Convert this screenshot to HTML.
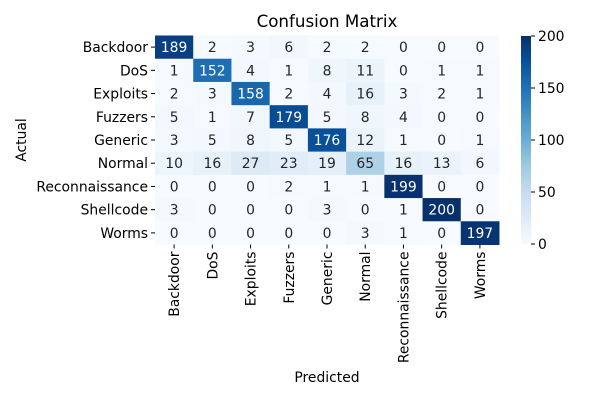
<!DOCTYPE html>
<html><head><meta charset="utf-8"><style>
body{margin:0;background:#fff;font-family:"Liberation Sans","DejaVu Sans",sans-serif;}
svg text{font-family:"DejaVu Sans","Liberation Sans",sans-serif;}
</style></head><body>
<svg id="c" width="600" height="400" xmlns="http://www.w3.org/2000/svg">
<defs><linearGradient id="cb" x1="0" y1="1" x2="0" y2="0">
<stop offset="0" stop-color="#f7fbff"/><stop offset="0.125" stop-color="#deebf7"/><stop offset="0.25" stop-color="#c6dbef"/><stop offset="0.375" stop-color="#9ecae1"/><stop offset="0.5" stop-color="#6baed6"/><stop offset="0.625" stop-color="#4292c6"/><stop offset="0.75" stop-color="#2171b5"/><stop offset="0.875" stop-color="#08519c"/><stop offset="1" stop-color="#08306b"/></linearGradient></defs>
<text x="327" y="27" font-size="16.7" text-anchor="middle">Confusion Matrix</text>
<text x="327" y="382" font-size="13.9" text-anchor="middle">Predicted</text>
<text transform="translate(26,140) rotate(-90)" font-size="13.9" text-anchor="middle">Actual</text>
<g id="cells"></g>
<rect x="521" y="36" width="10" height="208" fill="url(#cb)"/>
<g id="cbt"></g>
</svg>
<script>
const labels=["Backdoor","DoS","Exploits","Fuzzers","Generic","Normal","Reconnaissance","Shellcode","Worms"];
const matrix=[
[189,2,3,6,2,2,0,0,0],
[1,152,4,1,8,11,0,1,1],
[2,3,158,2,4,16,3,2,1],
[5,1,7,179,5,8,4,0,0],
[3,5,8,5,176,12,1,0,1],
[10,16,27,23,19,65,16,13,6],
[0,0,0,2,1,1,199,0,0],
[3,0,0,0,3,0,1,200,0],
[0,0,0,0,0,3,1,0,197]];
const cbTicks=[0,50,100,150,200];
const vmax=200;
const L=155,T=35.5,W=344,H=209;
const FS=13.9;
const stops=[[247,251,255],[222,235,247],[198,219,239],[158,202,225],[107,174,214],[66,146,198],[33,113,181],[8,81,156],[8,48,107]];
function col(v){let t=Math.max(0,Math.min(1,v/vmax))*8;let i=Math.min(7,Math.floor(t)),f=t-i;
const c=stops[i].map((a,k)=>Math.round(a+(stops[i+1][k]-a)*f));return c;}
const ns="http://www.w3.org/2000/svg";
const g=document.getElementById('cells');const svg=document.getElementById('c');
const n=labels.length,cw=W/n,ch=H/n;
function mk(tag,attrs,parent){const e=document.createElementNS(ns,tag);for(const k in attrs)e.setAttribute(k,attrs[k]);parent.appendChild(e);return e;}
matrix.forEach((row,r)=>row.forEach((v,c)=>{
 const cc=col(v);
 const rc=mk('rect',{x:L+c*cw,y:T+r*ch,width:cw+0.5,height:ch+0.5,fill:`rgb(${cc})`},g);
 
 
 const lum=0.299*cc[0]+0.587*cc[1]+0.114*cc[2];
 const t=mk('text',{x:L+(c+0.5)*cw,y:T+(r+0.5)*ch+5,'font-size':FS,'text-anchor':'middle',fill:lum<140?'#fff':'#262626'},g);
 t.textContent=v;
 
 
}));
labels.forEach((lb,i)=>{
 const y=T+(i+0.5)*ch;
 mk('line',{x1:L-4,x2:L,y1:y,y2:y,stroke:'#000'},svg);
 const t=mk('text',{x:L-7,y:y+5,'font-size':FS,'text-anchor':'end'},svg);t.textContent=lb;
 
 
 const x=L+(i+0.5)*cw;
 mk('line',{x1:x,x2:x,y1:T+H,y2:T+H+4,stroke:'#000'},svg);
 const t2=mk('text',{transform:`translate(${x+5},${T+H+7}) rotate(-90)`,'font-size':FS,'text-anchor':'end'},svg);t2.textContent=lb;
 
 
});
const cbg=document.getElementById('cbt');
cbTicks.forEach(v=>{
 const y=244-v/vmax*208;
 mk('line',{x1:531,x2:535,y1:y,y2:y,stroke:'#000'},cbg);
 const t=mk('text',{x:538,y:y+5,'font-size':FS},cbg);t.textContent=v;
 
 
});
</script>
</body></html>
